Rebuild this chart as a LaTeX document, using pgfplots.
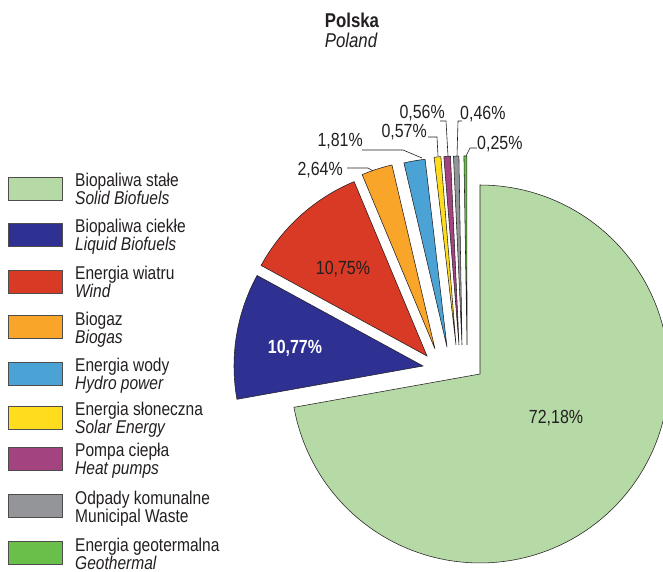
\documentclass[border=0pt]{standalone}
\usepackage{pgfplots}
\pgfplotsset{compat=1.18}
\usepackage{fontspec}
\setmainfont{Liberation Sans}[FakeStretch=0.84]
\definecolor{cSolid}{HTML}{B6DAA6}
\definecolor{cLiquid}{HTML}{2E3192}
\definecolor{cWind}{HTML}{D83A25}
\definecolor{cBiogas}{HTML}{F8A52A}
\definecolor{cHydro}{HTML}{4AA3D4}
\definecolor{cSolar}{HTML}{FFDC1E}
\definecolor{cHeat}{HTML}{A3437F}
\definecolor{cWaste}{HTML}{939598}
\definecolor{cGeo}{HTML}{6ABF4B}
\definecolor{txt}{HTML}{231F20}
% shares in percent
\def\vSolid{72.18}
\def\vLiquid{10.77}
\def\vWind{10.75}
\def\vBiogas{2.64}
\def\vHydro{1.81}
\def\vSolar{0.57}
\def\vHeat{0.56}
\def\vWaste{0.46}
\def\vGeo{0.25}
\def\R{189}
\pgfmathsetmacro\aA{90}
\pgfmathsetmacro\aB{90-3.6*\vSolid}
\pgfmathsetmacro\aBB{\aB+360}
\pgfmathsetmacro\aC{\aBB-3.6*\vLiquid}
\pgfmathsetmacro\aD{\aC-3.6*\vWind}
\pgfmathsetmacro\aE{\aD-3.6*\vBiogas}
\pgfmathsetmacro\aF{\aE-3.6*\vHydro}
\pgfmathsetmacro\aG{\aF-3.6*\vSolar}
\pgfmathsetmacro\aH{\aG-3.6*\vHeat}
\pgfmathsetmacro\aI{\aH-3.6*\vWaste}
\pgfmathsetmacro\aJ{\aI-3.6*\vGeo}
\newcommand{\slice}[5]{%
  \addplot[fill=#5, draw=txt, line width=0.55pt, domain=#3:#4, samples=120, variable=\t]
    ({#1+\R*cos(\t)},{#2+\R*sin(\t)}) -- (axis cs:#1,#2) -- cycle;}
\newcommand{\legitem}[5]{%
  \draw[draw=txt!80, line width=0.6pt, fill=#2] (axis cs:8,{572-#1+11.5}) rectangle (axis cs:62,{572-#1-11.5});
  \node[anchor=base west, inner sep=0pt, text=txt, font=\fontsize{18.5}{20}\selectfont] at (axis cs:75,{572-#1+1.5}) {#3};
  \node[anchor=base west, inner sep=0pt, text=txt, font=\fontsize{18.5}{20}\selectfont#5] at (axis cs:75,{572-#1-16.5}) {#4};}
\begin{document}
\begin{tikzpicture}
\path[use as bounding box] (0,0) rectangle (663pt,572pt);
\begin{axis}[at={(0,0)}, anchor=south west, x=1pt, y=1pt, xmin=0, xmax=663, ymin=0, ymax=572,
  hide axis, scale only axis, clip mode=individual]
\slice{480}{198}{\aB}{\aA}{cSolid}
\slice{423}{206}{\aC}{\aBB}{cLiquid}
\slice{427}{216}{\aD}{\aC}{cWind}
\slice{435}{223}{\aE}{\aD}{cBiogas}
\slice{447}{225}{\aF}{\aE}{cHydro}
\slice{456}{227}{\aG}{\aF}{cSolar}
\slice{459}{227}{\aH}{\aG}{cHeat}
\slice{462}{227}{\aI}{\aH}{cWaste}
\slice{467}{227}{\aJ}{\aI}{cGeo}
% title
\node[anchor=base, inner sep=0pt, text=txt, font=\fontsize{20}{22}\selectfont\bfseries] at (axis cs:352,544) {Polska};
\node[anchor=base, inner sep=0pt, text=txt, font=\fontsize{20}{22}\selectfont\itshape] at (axis cs:351,524) {Poland};
% labels inside
\node[anchor=base, inner sep=0pt, text=txt, font=\fontsize{19}{21}\selectfont] at (axis cs:556,148) {72,18\%};
\node[anchor=base, inner sep=0pt, text=white, font=\fontsize{19}{21}\selectfont\bfseries] at (axis cs:295,218) {10,77\%};
\node[anchor=base, inner sep=0pt, text=txt, font=\fontsize{19}{21}\selectfont] at (axis cs:343,297) {10,75\%};
% outside labels
\tikzset{lab/.style={inner sep=0pt, text=txt, font=\fontsize{19}{21}\selectfont}, lead/.style={draw=txt, line width=0.6pt}}
\node[lab, anchor=base east] at (axis cs:343,396) {2,64\%};
\node[lab, anchor=base east] at (axis cs:363,425) {1,81\%};
\node[lab, anchor=base east] at (axis cs:427,434) {0,57\%};
\node[lab, anchor=base east] at (axis cs:445,453) {0,56\%};
\node[lab, anchor=base west] at (axis cs:460,452) {0,46\%};
\node[lab, anchor=base west] at (axis cs:477,422) {0,25\%};
\draw[lead] (axis cs:347,404) -- (axis cs:368,404) -- (axis cs:373,401);
\draw[lead] (axis cs:362,422) -- (axis cs:403,422) -- (axis cs:422,414);
\draw[lead] (axis cs:428,435) -- (axis cs:437,435) -- (axis cs:438,416);
\draw[lead] (axis cs:440,451) -- (axis cs:446,451) -- (axis cs:448,416);
\draw[lead] (axis cs:462,451) -- (axis cs:458,451) -- (axis cs:457,416);
\draw[lead] (axis cs:477,424) -- (axis cs:470,424) -- (axis cs:466,416);
% legend
\legitem{188.5}{cSolid}{Biopaliwa stałe}{Solid Biofuels}{\itshape}
\legitem{234.5}{cLiquid}{Biopaliwa ciekłe}{Liquid Biofuels}{\itshape}
\legitem{281.5}{cWind}{Energia wiatru}{Wind}{\itshape}
\legitem{327}{cBiogas}{Biogaz}{Biogas}{\itshape}
\legitem{373.5}{cHydro}{Energia wody}{Hydro power}{\itshape}
\legitem{417.5}{cSolar}{Energia słoneczna}{Solar Energy}{\itshape}
\legitem{458.5}{cHeat}{Pompa ciepła}{Heat pumps}{\itshape}
\legitem{506}{cWaste}{Odpady komunalne}{Municipal Waste}{}
\legitem{553}{cGeo}{Energia geotermalna}{Geothermal}{\itshape}
\end{axis}
\end{tikzpicture}
\end{document}
